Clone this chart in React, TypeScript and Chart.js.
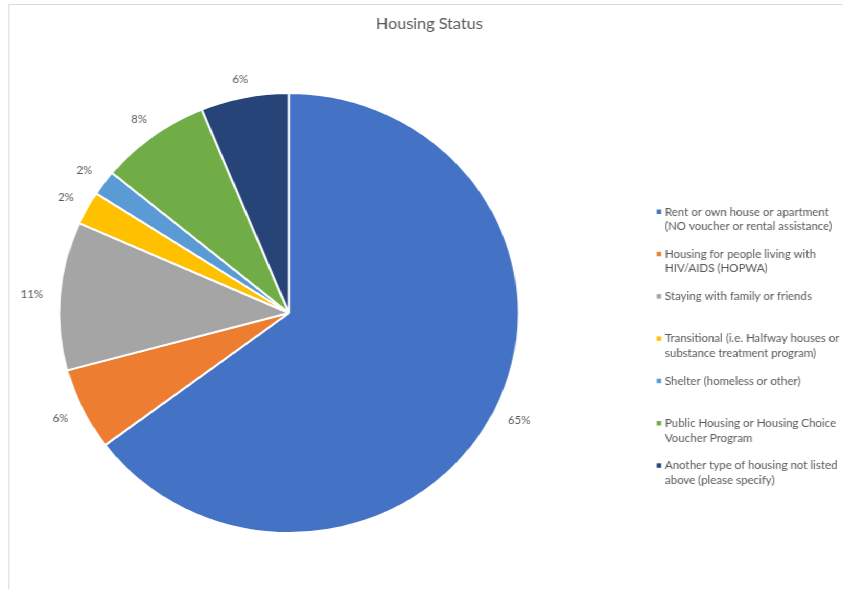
import React, { useEffect, useRef } from "react";
import { Chart, registerables } from "chart.js";

Chart.register(...registerables);

const chartTitle = "Housing Status";
const categoryLines: string[][] = [
  ["Rent or own house or apartment", "(NO voucher or rental assistance)"],
  ["Housing for people living with", "HIV/AIDS (HOPWA)"],
  ["Staying with family or friends"],
  ["Transitional (i.e. Halfway houses or", "substance treatment program)"],
  ["Shelter (homeless or other)"],
  ["Public Housing or Housing Choice", "Voucher Program"],
  ["Another type of housing not listed", "above (please specify)"],
];
const shares = [64.75, 6.05, 10.9, 2.45, 1.85, 7.8, 6.2];
const sliceColors = ["#4472C4", "#ED7D31", "#A5A5A5", "#FFC000", "#5B9BD5", "#70AD47", "#264478"];

const W = 806;
const H = 589;
const SX = 842 / W;
const FONT = "Lato, 'Liberation Sans', sans-serif";
const TEXT = "#595959";

const decor = {
  id: "decor",
  beforeDraw(chart: any) {
    const ctx = chart.ctx;
    ctx.save();
    ctx.fillStyle = "#ffffff";
    ctx.fillRect(0, 0, chart.width, chart.height);
    ctx.strokeStyle = "#d9d9d9";
    ctx.lineWidth = 1;
    ctx.beginPath();
    ctx.moveTo(8.6, H);
    ctx.lineTo(8.6, 4.5);
    ctx.lineTo(W, 4.5);
    ctx.stroke();
    ctx.restore();
  },
  afterDatasetsDraw(chart: any) {
    const ctx = chart.ctx;
    const meta = chart.getDatasetMeta(0);
    const data = chart.data.datasets[0].data as number[];
    const total = data.reduce((a, b) => a + b, 0);
    ctx.save();
    ctx.font = `11px ${FONT}`;
    ctx.fillStyle = TEXT;
    ctx.textAlign = "center";
    ctx.textBaseline = "middle";
    meta.data.forEach((arc: any, i: number) => {
      const p = arc.getProps(["x", "y", "startAngle", "endAngle", "outerRadius"], true);
      const mid = (p.startAngle + p.endAngle) / 2;
      const c = Math.cos(mid);
      const s = Math.sin(mid);
      const text = Math.round((data[i] / total) * 100) + "%";
      const w = ctx.measureText(text).width;
      const h = 11;
      const d = p.outerRadius + 12 + 4 * Math.abs(c);
      ctx.fillText(text, p.x + c * d + (c * w) / 2, p.y + s * d + (s * h) / 2);
    });
    ctx.restore();
  },
  afterDraw(chart: any) {
    const ctx = chart.ctx;
    ctx.save();
    ctx.fillStyle = TEXT;
    ctx.textAlign = "center";
    ctx.textBaseline = "middle";
    ctx.font = `15.5px ${FONT}`;
    ctx.fillText(chartTitle, 411, 23.5);

    const colors = chart.data.datasets[0].backgroundColor as string[];
    ctx.font = `11px ${FONT}`;
    ctx.textAlign = "left";
    categoryLines.forEach((lines, i) => {
      const y0 = 212 + i * 42.3;
      ctx.fillStyle = colors[i];
      ctx.fillRect(628.5, y0 - 2.5, 4.3, 4.5);
      ctx.fillStyle = TEXT;
      lines.forEach((ln, j) => {
        ctx.fillText(ln, 636.5, y0 + j * 14.5);
      });
    });
    ctx.restore();
  },
};

export default function App() {
  const ref = useRef<HTMLCanvasElement | null>(null);
  useEffect(() => {
    if (!ref.current) return;
    const chart = new Chart(ref.current, {
      type: "pie",
      data: {
        labels: categoryLines.map((l) => l.join(" ")),
        datasets: [
          {
            data: shares,
            backgroundColor: sliceColors,
            borderColor: "#ffffff",
            borderWidth: 2,
          },
        ],
      },
      options: {
        responsive: false,
        animation: false,
        radius: 220,
        layout: { padding: { left: 40, right: 292.8, top: 40, bottom: 3 } },
        plugins: {
          legend: { display: false },
          tooltip: { enabled: false },
          title: { display: false },
        },
      } as any,
      plugins: [decor],
    });
    return () => chart.destroy();
  }, []);
  return (
    <div
      style={{
        position: "fixed",
        left: 0,
        top: 0,
        width: W,
        height: H,
        transform: `scaleX(${SX})`,
        transformOrigin: "0 0",
        background: "#fff",
      }}
    >
      <canvas ref={ref} width={W} height={H} style={{ display: "block" }} />
    </div>
  );
}
